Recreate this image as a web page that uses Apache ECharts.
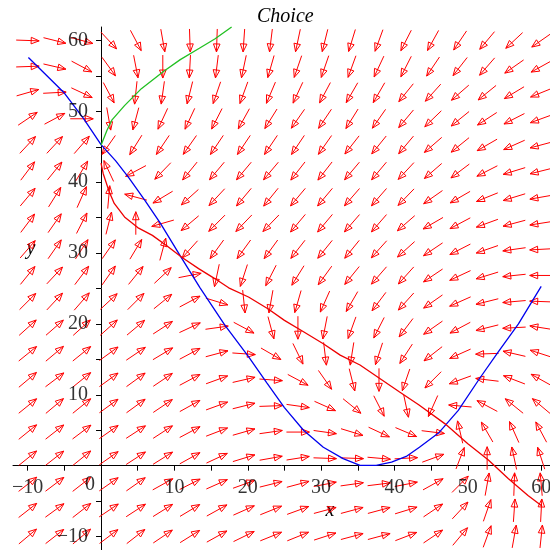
<!DOCTYPE html>
<html>
<head>
<meta charset="utf-8">
<script src="https://cdn.jsdelivr.net/npm/echarts@6/dist/echarts.min.js"></script>
<style>html,body{margin:0;padding:0;background:#fff}#c{width:550px;height:550px}</style>
</head>
<body>
<div id="c"></div>
<script>
// grid positions of the field arrows
const gridX = [-10, -6.32, -2.63, 1.05, 4.74, 8.42, 12.11, 15.79, 19.47, 23.16, 26.84, 30.53, 34.21, 37.89, 41.58, 45.26, 48.95, 52.63, 56.32, 60];
const gridY = [-10, -6.32, -2.63, 1.05, 4.74, 8.42, 12.11, 15.79, 19.47, 23.16, 26.84, 30.53, 34.21, 37.89, 41.58, 45.26, 48.95, 52.63, 56.32, 60];
// arrow directions in degrees, rows listed from top (y=60) to bottom (y=-10)
const angleRows = [
  [-2, -14, -15, -47, -62, -80, -88, -92, -94, -97, -102, -104, -107, -110, -117, -119, -124, -130, -137, -145],
  [2, -13, -28, -54, -79, -90, -93, -97, -102, -106, -109, -109, -110, -115, -117, -124, -128, -131, -145, -151],
  [16, 3, -25, -62, -96, -98, -104, -109, -110, -113, -115, -118, -120, -120, -129, -132, -139, -141, -149, -158],
  [34, 28, 0, -80, -105, -115, -115, -117, -119, -122, -125, -124, -122, -125, -130, -136, -141, -147, -153, -160],
  [47, 47, 49, -125, -122, -124, -125, -124, -124, -124, -124, -125, -128, -129, -130, -139, -141, -150, -156, -165],
  [53, 51, 59, 115, -152, -134, -129, -130, -130, -130, -128, -128, -130, -130, -133, -139, -143, -153, -163, -166],
  [50, 58, 66, 85, 165, -149, -138, -133, -130, -129, -130, -130, -131, -131, -134, -145, -150, -158, -163, -170],
  [53, 55, 63, 76, 90, -164, -140, -135, -134, -134, -130, -130, -131, -131, -139, -150, -152, -160, -165, -171],
  [49, 55, 57, 55, 59, 75, -132, -126, -126, -126, -128, -129, -129, -132, -138, -146, -153, -161, -172, -177],
  [51, 47, 53, 55, 51, 43, 11, -102, -108, -117, -122, -126, -129, -131, -132, -146, -155, -163, -174, 180],
  [45, 47, 49, 43, 45, 39, 28, -17, -84, -100, -106, -114, -120, -127, -132, -145, -156, -166, -175, 178],
  [42, 41, 42, 42, 40, 33, 25, 8, -28, -75, -90, -101, -110, -117, -127, -145, -152, -166, -177, 171],
  [39, 40, 39, 36, 34, 31, 28, 15, -4, -30, -64, -83, -99, -108, -123, -142, -156, -178, 167, 162],
  [40, 37, 39, 36, 36, 34, 28, 20, 13, -4, -28, -55, -76, -90, -109, -135, -160, 173, 159, 151],
  [39, 40, 39, 36, 36, 34, 29, 20, 14, 2, -8, -24, -39, -63, -78, -114, 175, 152, 141, 140],
  [39, 38, 37, 35, 33, 33, 28, 21, 16, 8, 0, -8, -17, -25, -23, -7, 103, 120, 114, 118],
  [39, 38, 39, 35, 33, 32, 29, 25, 17, 10, 9, -2, -2, -5, 3, 20, 69, 90, 102, 108],
  [38, 37, 38, 35, 35, 29, 27, 24, 20, 14, 15, 11, 8, 7, 11, 29, 45, 80, 88, 95],
  [38, 36, 38, 34, 33, 32, 31, 29, 24, 22, 20, 15, 15, 15, 17, 34, 47, 71, 86, 87],
  [40, 38, 40, 37, 38, 34, 32, 29, 26, 22, 22, 18, 15, 15, 21, 34, 50, 70, 80, 84]
];
const blueCurve = [[-9.9,57.6],[-5.1,52.7],[-2.4,49.0],[0,45.3],[2.0,43.0],[3.8,40.6],[6.0,37.4],[8.1,34.2],[10.8,29.6],[13.5,25.1],[16.9,19.8],[20.1,15.4],[22.6,11.7],[25.0,8.2],[27.6,5.0],[30.3,2.6],[33.0,1.0],[35.3,0.05],[37.5,0.05],[39.6,0.5],[41.6,1.3],[43.4,2.6],[46.0,4.6],[48.7,7.8],[51.6,12.3],[54.1,16.0],[56.9,20.0],[60.0,25.3]];
const redCurve = [[0,42.7],[0.3,41.2],[1.1,38.7],[1.8,37.0],[3.2,35.1],[5.0,33.6],[7.0,32.5],[9.0,31.0],[11.0,29.4],[13.3,27.8],[15.5,26.4],[17.4,25.1],[20.1,23.8],[22.8,22.1],[25.0,20.5],[27.6,18.9],[30.3,17.2],[32.6,15.6],[35.3,14.2],[38.0,12.3],[40.7,10.4],[43.3,8.6],[46.9,5.9],[50.0,3.1],[52.8,0.8],[55.5,-1.8],[58.2,-4.2],[60.1,-5.7]];
const greenCurve = [[0,45.2],[0.8,47.3],[1.5,48.8],[3.2,50.8],[5.5,53.2],[8.6,55.7],[10.8,57.3],[13.4,58.9],[15.5,60.2],[17.8,61.9]];
const xTicks = [-10,-5,0,5,10,15,20,25,30,35,40,45,50,55,60];
const yTicks = [-10,-5,0,5,10,15,20,25,30,35,40,45,50,55,60];
const xLabels = [-10,0,10,20,30,40,50,60];
const yLabels = [-10,10,20,30,40,50,60];

const fieldData = [];
angleRows.forEach((row, r) => {
  const y = gridY[gridY.length - 1 - r];
  row.forEach((a, c) => fieldData.push([gridX[c], y, a]));
});

const FONT = 'Liberation Serif';
const minus = v => String(v).replace('-', '\u2212');
const labelStyle = {fontFamily: FONT, fontSize: 20, color: '#000'};

// tick labels positioned through the axes' own scales
const xLabelData = xLabels.map(v => v === 0
  ? {value: [v, 0], label: {offset: [-11, -3]}}
  : {value: [v, 0]});
const yLabelData = yLabels.map(v => ({value: [0, v]}));

const chart = echarts.init(document.getElementById('c'), null, {renderer: 'canvas'});
chart.setOption({
  animation: false,
  backgroundColor: '#fff',
  title: {
    text: 'Choice', left: 257, top: 7, padding: 0,
    textStyle: {fontFamily: FONT, fontStyle: 'italic', fontWeight: 'normal', fontSize: 20, color: '#000'}
  },
  grid: {left: 13, right: 0, top: 27, bottom: 0, containLabel: false, outerBoundsMode: 'none'},
  xAxis: {
    type: 'value', min: -12, max: 61.2,
    axisLine: {onZero: true, lineStyle: {color: '#000', width: 1}},
    axisTick: {show: true, customValues: xTicks, length: 5, lineStyle: {color: '#000'}},
    axisLabel: {show: false},
    splitLine: {show: false}
  },
  yAxis: {
    type: 'value', min: -11.9, max: 61.9,
    axisLine: {onZero: true, lineStyle: {color: '#000', width: 1}},
    axisTick: {show: true, customValues: yTicks, length: 5, lineStyle: {color: '#000'}},
    axisLabel: {show: false},
    splitLine: {show: false}
  },
  graphic: [
    {type: 'text', x: 330, y: 511, style: {text: 'x', font: 'italic 20px "Liberation Serif"', fill: '#000', textAlign: 'center', textVerticalAlign: 'middle'}},
    {type: 'text', x: 31, y: 249, style: {text: 'y', font: 'italic 20px "Liberation Serif"', fill: '#000', textAlign: 'center', textVerticalAlign: 'middle'}}
  ],
  series: [
    {
      type: 'custom', data: fieldData, clip: false, z: 2, silent: true,
      renderItem: function (params, api) {
        const p = api.coord([api.value(0), api.value(1)]);
        const a = api.value(2) * Math.PI / 180;
        const ux = Math.cos(a), uy = -Math.sin(a);
        const h = 11.5, hl = 8, hw = 3.3;
        const tail = [p[0] - ux * h, p[1] - uy * h];
        const tip = [p[0] + ux * h, p[1] + uy * h];
        const bx = tip[0] - ux * hl, by = tip[1] - uy * hl;
        const nx = -uy, ny = ux;
        return {
          type: 'group',
          children: [
            {type: 'line', shape: {x1: tail[0], y1: tail[1], x2: tip[0], y2: tip[1]}, style: {stroke: '#ff0000', lineWidth: 1}},
            {type: 'polygon', shape: {points: [tip, [bx + nx * hw, by + ny * hw], [bx - nx * hw, by - ny * hw]]}, style: {stroke: '#ff0000', fill: 'none', lineWidth: 1}}
          ]
        };
      }
    },
    {type: 'line', data: blueCurve, showSymbol: false, symbol: 'none', clip: false, z: 3, lineStyle: {color: '#0000ee', width: 1.3}},
    {type: 'line', data: redCurve, showSymbol: false, symbol: 'none', clip: false, z: 3, lineStyle: {color: '#ee0000', width: 1.3}},
    {type: 'line', data: greenCurve, showSymbol: false, symbol: 'none', clip: false, z: 3, lineStyle: {color: '#22c022', width: 1.3}},
    {
      type: 'scatter', data: xLabelData, symbolSize: 0.1, itemStyle: {color: 'rgba(0,0,0,0)'}, silent: true, clip: false, z: 5,
      label: Object.assign({show: true, position: 'bottom', distance: 12, formatter: p => minus(p.value[0])}, labelStyle)
    },
    {
      type: 'scatter', data: yLabelData, symbolSize: 0.1, itemStyle: {color: 'rgba(0,0,0,0)'}, silent: true, clip: false, z: 5,
      label: Object.assign({show: true, position: 'left', distance: 13, formatter: p => minus(p.value[1])}, labelStyle)
    }
  ]
});
</script>
</body>
</html>
